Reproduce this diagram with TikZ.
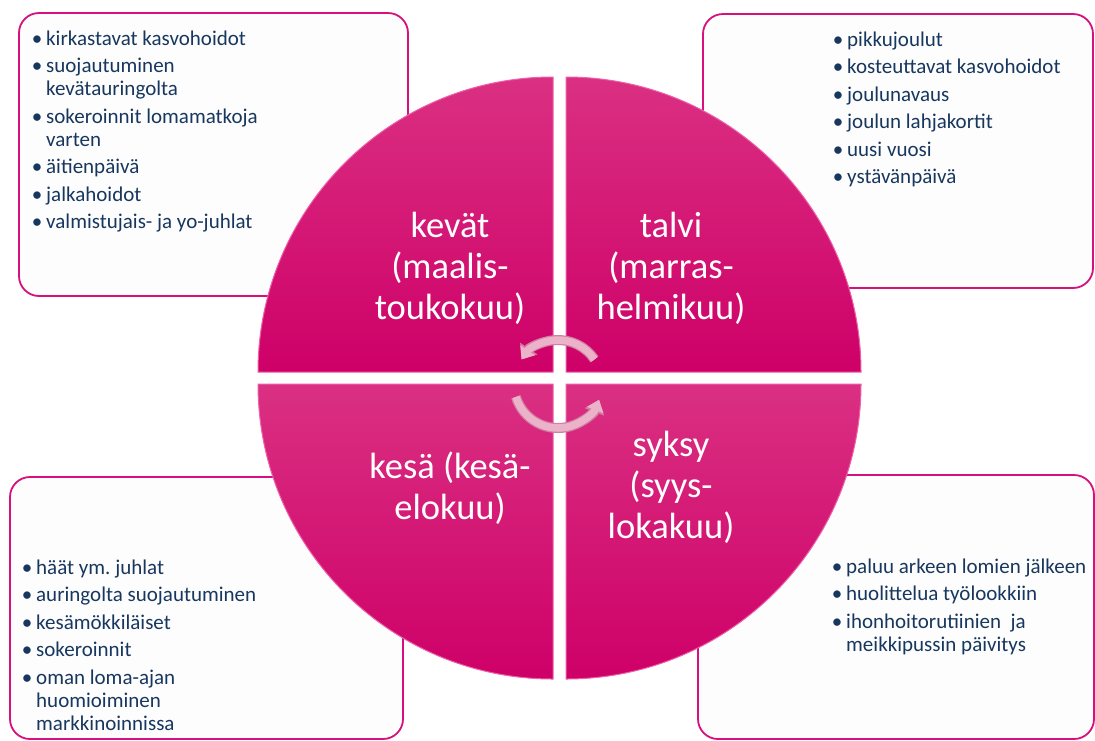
\documentclass[tikz,border=0pt]{standalone}
\usepackage{fontspec}
\setmainfont{Carlito}
\usetikzlibrary{arrows.meta}
\frenchspacing

\definecolor{seasontop}{RGB}{218,48,130}
\definecolor{seasonbot}{RGB}{206,0,104}
\definecolor{seasonedge}{RGB}{238,96,170}
\definecolor{boxline}{RGB}{214,16,124}
\definecolor{boxfill}{RGB}{253,253,254}
\definecolor{listblue}{RGB}{23,55,94}
\definecolor{arrowpink}{RGB}{236,178,202}
\definecolor{arrowedge}{RGB}{208,128,162}

\newcommand{\bul}{\makebox[18pt]{\textbullet}}

\begin{document}
\begin{tikzpicture}[x=1pt, y=-1pt,
    listbox/.style={draw=boxline, line width=1.8pt, fill=boxfill, rounded corners=20pt},
    listtext/.style={anchor=base west, inner sep=0pt, text=listblue, font={\fontsize{21}{23}\selectfont}},
    quarter/.style={top color=seasontop, bottom color=seasonbot, draw=seasonedge, line width=1pt},
    season/.style={anchor=base, inner sep=0pt, text=white, font={\fontsize{36.5}{41}\selectfont}},
    turnedge/.style={line width=10pt, arrowedge, -{Triangle[width=20pt,length=13pt]}},
    turn/.style={line width=7.5pt, arrowpink, -{Triangle[width=17pt,length=11pt]}}]
        \useasboundingbox (0,0) rectangle (1095,740);
        \fill [white] (0,0) rectangle (1095,740);

        % list boxes behind the wheel
        \draw [listbox] (19,13) rectangle (408,296);
        \draw [listbox] (703,14) rectangle (1093,288);
        \draw [listbox] (10,477) rectangle (403,739);
        \draw [listbox] (698,475) rectangle (1094,739);

        % the four quarters
        \draw [quarter] (553,372) -- (258,372) arc[start angle=180, end angle=270, radius=295] -- cycle;
        \draw [quarter] (566,372) -- (566,77) arc[start angle=270, end angle=360, radius=295] -- cycle;
        \draw [quarter] (553,384) -- (553,679) arc[start angle=90, end angle=180, radius=295] -- cycle;
        \draw [quarter] (566,384) -- (861,384) arc[start angle=0, end angle=90, radius=295] -- cycle;

        \node [season] (kevat) at (450,237) {\begin{tabular}[t]{@{}c@{}}kevät\\(maalis-\\toukokuu)\end{tabular}};
        \node [season] (talvi) at (671,237) {\begin{tabular}[t]{@{}c@{}}talvi\\(marras-\\helmikuu)\end{tabular}};
        \node [season] (kesa) at (450,478) {\begin{tabular}[t]{@{}c@{}}kesä (kesä-\\elokuu)\end{tabular}};
        \node [season] (syksy) at (671,456) {\begin{tabular}[t]{@{}c@{}}syksy\\(syys-\\lokakuu)\end{tabular}};

        % turning arrows in the middle
        \coordinate (hub) at (558,384);
        \draw [turnedge] ([shift={(-34:44)}]hub) arc[start angle=-34, end angle=-146, radius=44];
        \draw [turn] ([shift={(-34:44)}]hub) arc[start angle=-34, end angle=-146, radius=44];
        \draw [turnedge] ([shift={(163:44)}]hub) arc[start angle=163, end angle=21, radius=44];
        \draw [turn] ([shift={(163:44)}]hub) arc[start angle=163, end angle=21, radius=44];

        \node [listtext] (kevatlist) at (28,45) {\begin{tabular}[t]{@{}c@{}l@{}}
            \bul & kirkastavat kasvohoidot\\[4.5pt]
            \bul & suojautuminen\\
                 & kevätauringolta\\[4.5pt]
            \bul & sokeroinnit lomamatkoja\\
                 & varten\\[4.5pt]
            \bul & äitienpäivä\\[4.5pt]
            \bul & jalkahoidot\\[4.5pt]
            \bul & valmistujais- ja yo-juhlat
        \end{tabular}};
        \node [listtext] (talvilist) at (829,46) {\begin{tabular}[t]{@{}c@{}l@{}}
            \bul & pikkujoulut\\[4.5pt]
            \bul & kosteuttavat kasvohoidot\\[4.5pt]
            \bul & joulunavaus\\[4.5pt]
            \bul & joulun lahjakortit\\[4.5pt]
            \bul & uusi vuosi\\[4.5pt]
            \bul & ystävänpäivä
        \end{tabular}};
        \node [listtext] (kesalist) at (18,574) {\begin{tabular}[t]{@{}c@{}l@{}}
            \bul & häät ym. juhlat\\[4.5pt]
            \bul & auringolta suojautuminen\\[4.5pt]
            \bul & kesämökkiläiset\\[4.5pt]
            \bul & sokeroinnit\\[4.5pt]
            \bul & oman loma-ajan\\
                 & huomioiminen\\
                 & markkinoinnissa
        \end{tabular}};
        \node [listtext] (syksylist) at (828,573) {\begin{tabular}[t]{@{}c@{}l@{}}
            \bul & paluu arkeen lomien jälkeen\\[4.5pt]
            \bul & huolittelua työlookkiin\\[4.5pt]
            \bul & ihonhoitorutiinien\ \ ja\\
                 & meikkipussin päivitys
        \end{tabular}};
\end{tikzpicture}
\end{document}
